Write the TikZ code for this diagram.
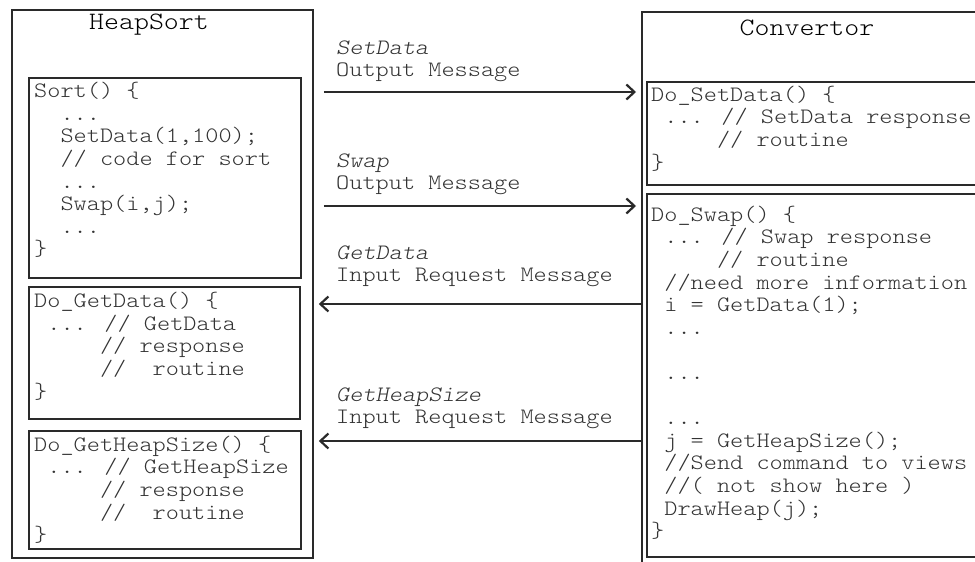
\documentclass[tikz,border=0pt]{standalone}
\usepackage{fontspec}
\usetikzlibrary{arrows.meta,calc}
\newfontfamily\codefont{lmmonolt10-regular.otf}[ItalicFont=lmmonolt10-oblique.otf, FakeStretch=1.14]
\definecolor{ink}{HTML}{2A2A2A}
\definecolor{codegray}{HTML}{333333}
\newlength\cw \setlength\cw{13.17pt}
\newcommand\ind[1]{\hspace*{#1\cw}}
\newcommand\fst{\rule{0pt}{20pt}}
\begin{document}
\begin{tikzpicture}[x=1pt,y=-1pt,
  box/.style={draw=ink, line width=1.8pt, anchor=north west, inner sep=0pt},
  code/.style={anchor=north west, inner sep=0pt, align=left, text=codegray,
    font={\codefont\fontsize{22}{22.6}\selectfont}},
  lbl/.style={anchor=north west, inner sep=0pt, align=left, text=codegray,
    font={\codefont\fontsize{22}{22}\selectfont}},
  ttl/.style={anchor=base, inner sep=0pt, text=black,
    font={\codefont\fontsize{25}{28}\selectfont}},
  arr/.style={draw=ink, line width=1.8pt, -{Straight Barb[length=8pt,width=15pt,line width=2.2pt]}}]
\useasboundingbox (0,0) rectangle (975,562);
\fill[white] (0,0) rectangle (975,562);
\begin{scope}
\clip (0,0) rectangle (975,562);
% left object
\node[box, minimum width=301pt, minimum height=548pt] (hs) at (11,9) {};
\node[ttl] (hst) at (149,29.5) {HeapSort};
\node[box, minimum width=272pt, minimum height=200pt] (sortb) at (28,77) {};
\node[box, minimum width=271pt, minimum height=132pt] (gdb) at (28,286) {};
\node[box, minimum width=272pt, minimum height=118pt] (ghb) at (28,430) {};
\node[code] (sortt) at (34,77.5) {\fst Sort() \{\\
\ind2...\\
\ind2SetData(1,100);\\
\ind2// code for sort\\
\ind2...\\
\ind2Swap(i,j);\\
\ind2...\\
\}};
\node[code] (gdt) at (34,287.5) {\fst Do\_GetData() \{\\
\ind1... // GetData\\
\ind5// response\\
\ind5//~~routine\\
\}};
\node[code] (ght) at (34,431) {\fst Do\_GetHeapSize() \{\\
\ind1... // GetHeapSize\\
\ind5// response\\
\ind5//~~routine\\
\}};
% right object
\node[box, minimum width=400pt, minimum height=600pt] (cv) at (641,11) {};
\node[ttl] (cvt) at (807,35) {Convertor};
\node[box, minimum width=360pt, minimum height=103pt] (sdb) at (646,81) {};
\node[box, minimum width=360pt, minimum height=363pt] (swb) at (646,193) {};
\node[code] (sdt) at (651,81) {\fst Do\_SetData() \{\\
\ind1... // SetData response\\
\ind5// routine\\
\}};
\node[code] (swt) at (651,201) {\fst Do\_Swap() \{\\
\ind1... // Swap response\\
\ind5// routine\\
\ind1//need more information\\
\ind1i = GetData(1);\\
\ind1...\\
\mbox{}\\
\ind1...\\
\mbox{}\\
\ind1...\\
\ind1j = GetHeapSize();\\
\ind1//Send command to views\\
\ind1//( not show here )\\
\ind1DrawHeap(j);\\
\}};
% message labels
\node[lbl] (lsd) at (336,34) {\fst\itshape SetData\\ Output Message};
\node[lbl] (lsw) at (336,147.5) {\fst\itshape Swap\\ Output Message};
\node[lbl] (lgd) at (336,239) {\fst\itshape GetData\\ Input Request Message};
\node[lbl] (lgh) at (336,381) {\fst\itshape GetHeapSize\\ Input Request Message};
% arrow levels
\coordinate (y1) at (0,92);
\coordinate (y2) at (0,206);
\coordinate (y3) at (0,304);
\coordinate (y4) at (0,441);
\draw[arr] ($(hs.east|-y1)+(10,0)$) -- ($(cv.west|-y1)+(-5,0)$);
\draw[arr] ($(hs.east|-y2)+(10,0)$) -- ($(cv.west|-y2)+(-5,0)$);
\draw[arr] (cv.west|-y3) -- ($(hs.east|-y3)+(5,0)$);
\draw[arr] (cv.west|-y4) -- ($(hs.east|-y4)+(5,0)$);
\end{scope}
\end{tikzpicture}
\end{document}
